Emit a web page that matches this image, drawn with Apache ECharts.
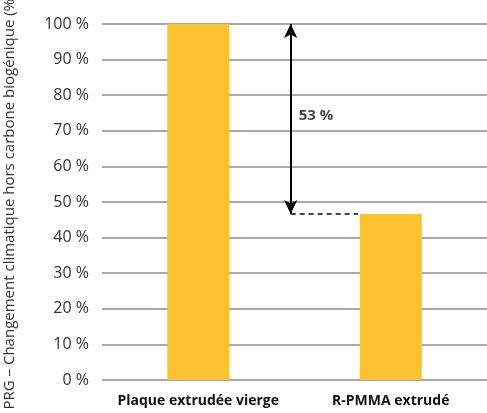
<!DOCTYPE html>
<html>
<head>
<meta charset="utf-8">
<script src="https://cdn.jsdelivr.net/npm/echarts@6/dist/echarts.min.js"></script>
<style>
  html, body { margin: 0; padding: 0; background: #fff; }
  #box { width: 487px; height: 413px; }
</style>
</head>
<body>
<div id="box"></div>
<script>
// données
var categories = ['Plaque extrudée vierge', 'R-PMMA extrudé'];
var values = [100, 46.6];
var diffLabel = '53 %';
var yName = 'PRG – Changement climatique hors carbone biogénique (%)';

var myChart = echarts.init(document.getElementById('box'));
var font = '"Open Sans", "Noto Sans", sans-serif';
var arrowX = 0.98;   // position de la flèche sur l'axe x secondaire (0..2)
var dashEnd = 1.33;  // bord gauche de la 2e barre

var option = {
    animation: false,
    grid: { left: 102, right: 0, top: 24, bottom: 33, outerBoundsMode: 'none', containLabel: false },
    xAxis: [{
            type: 'category',
            data: categories,
            axisLine: { show: false },
            axisTick: { show: false },
            axisLabel: {
                interval: 0,
                color: '#111',
                fontFamily: font,
                fontWeight: 'bold',
                fontSize: 14,
                margin: 14
            }
        },
        {
            type: 'value',
            min: 0,
            max: 2,
            show: false
        }
    ],
    yAxis: {
        type: 'value',
        min: 0,
        max: 100,
        interval: 10,
        name: yName,
        nameLocation: 'middle',
        nameGap: 85,
        nameMoveOverlap: false,
        nameTextStyle: { color: '#333', fontFamily: font, fontSize: 15 },
        axisLine: { show: false },
        axisTick: { show: false },
        axisLabel: {
            formatter: '{value} %',
            color: '#333',
            fontFamily: font,
            fontSize: 16,
            margin: 13
        },
        splitLine: { lineStyle: { color: '#8c8c8c', width: 1.5 } }
    },
    series: [{
            type: 'bar',
            data: values,
            barWidth: 62,
            itemStyle: { color: '#fdc22f' },
            z: 3
        },
        {
            type: 'scatter',
            xAxisIndex: 1,
            symbolSize: 0,
            data: [[arrowX, (values[0] + values[1]) / 2 + 1]],
            label: {
                show: true,
                position: 'right',
                distance: 8,
                formatter: diffLabel,
                color: '#111',
                fontFamily: font,
                fontWeight: 'bold',
                fontSize: 15
            },
            markLine: {
                silent: true,
                animation: false,
                label: { show: false },
                data: [
                    [{
                        coord: [arrowX, values[0]],
                        symbol: 'arrow',
                        symbolSize: [10, 14],
                        lineStyle: { color: '#000', width: 2, type: 'solid' }
                    }, {
                        coord: [arrowX, values[1]],
                        symbol: 'arrow',
                        symbolSize: [10, 14]
                    }],
                    [{
                        coord: [arrowX, values[1]],
                        symbol: 'none',
                        lineStyle: { color: '#444', width: 2, type: [5, 4] }
                    }, {
                        coord: [dashEnd, values[1]],
                        symbol: 'none'
                    }]
                ]
            }
        }
    ]
};
myChart.setOption(option);
</script>
</body>
</html>
